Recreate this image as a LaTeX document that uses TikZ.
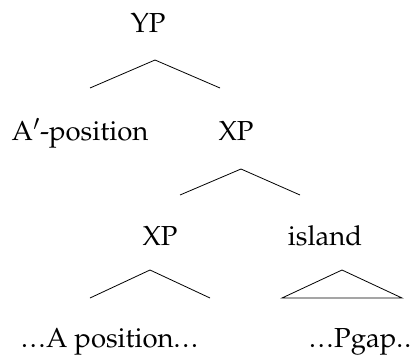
\documentclass[tikz,border=0pt]{standalone}
\usepackage[T1]{fontenc}
\usepackage{mathpazo}
\newcommand\myell{.\kern1.8pt.\kern1.8pt.\kern0.8pt}
\begin{document}
\begin{tikzpicture}[x=1pt,y=-1pt,
  lab/.style={anchor=base,inner sep=0pt,font=\fontsize{27.5}{33}\selectfont},
  br/.style={line width=0.8pt}]
\useasboundingbox (0,0) rectangle (414,356);
\node[lab] (yp) at (148,32) {YP};
\node[lab] (apos) at (80,140) {A$'$-position};
\node[lab] (xp1) at (236,140) {XP};
\node[lab] (xp2) at (160,245) {XP};
\node[lab] (isl) at (325,245) {island};
\node[lab,anchor=base west] (apos2) at (21,347) {\myell A position\myell};
\node[lab,anchor=base west] (pgap) at (309,347) {\myell Pgap.\kern1.2pt.};
\coordinate (t1) at (155,60); \coordinate (l1) at (90,88); \coordinate (r1) at (220,88);
\coordinate (t2) at (241,169); \coordinate (l2) at (180,195); \coordinate (r2) at (300,195);
\coordinate (t3) at (150,270); \coordinate (l3) at (90,298); \coordinate (r3) at (210,298);
\coordinate (t4) at (342,270); \coordinate (l4) at (282,298); \coordinate (r4) at (402,298);
\draw[br] (l1) -- (t1) -- (r1);
\draw[br] (l2) -- (t2) -- (r2);
\draw[br] (l3) -- (t3) -- (r3);
\draw[br] (l4) -- (t4) -- (r4) -- cycle;
\end{tikzpicture}
\end{document}
